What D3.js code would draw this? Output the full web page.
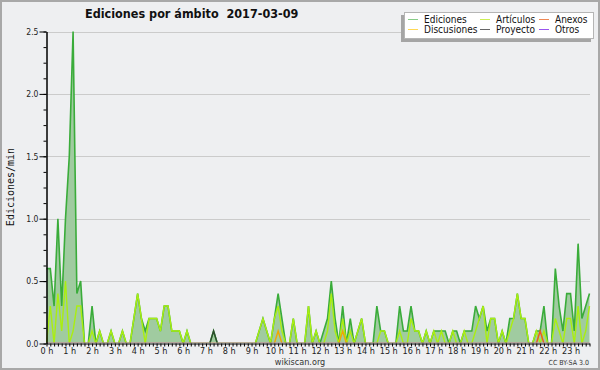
<!DOCTYPE html>
<html><head><meta charset="utf-8">
<script src="https://cdn.jsdelivr.net/npm/d3@7"></script>
<style>
html,body{margin:0;padding:0;background:#fff;}
svg{display:block;}
</style></head><body>
<svg id="chart" width="600" height="370"></svg>
<script>
// ---- data (10-minute bins, edits per minute) ----
const hourLabels = ["0 h","1 h","2 h","3 h","4 h","5 h","6 h","7 h","8 h","9 h","10 h","11 h",
  "12 h","13 h","14 h","15 h","16 h","17 h","18 h","19 h","20 h","21 h","22 h","23 h"];
const yTickValues = [0, 0.5, 1, 1.5, 2, 2.5];
const yTickLabels = ["0.0","0.5","1.0","1.5","2.0","2.5"];

const ediciones = [
  0.6,0.6,0.3,1.0,0.3,1.0,1.5,2.5,0.4,0.5,0,0,
  0.3,0,0.1,0,0,0.1,0,0,0.1,0,0,0.2,
  0.4,0.2,0.1,0.2,0.2,0.2,0.1,0.3,0.3,0.1,0.1,0.1,
  0,0.1,0,0,0,0,0,0,0.1,0,0,0,
  0,0,0,0,0,0,0,0,0.1,0.2,0.1,0,
  0.2,0.4,0.2,0,0,0.2,0,0,0,0.3,0,0.1,
  0,0.1,0.2,0.5,0.2,0,0.3,0,0.2,0,0.1,0.2,
  0,0,0,0.3,0.1,0.1,0,0,0,0.3,0.1,0.1,
  0.3,0.1,0.1,0,0.1,0,0.1,0.1,0.1,0.1,0,0.1,
  0.1,0,0.1,0.1,0.1,0.3,0.2,0.3,0.1,0.2,0.2,0,
  0.1,0,0.2,0.2,0.4,0.2,0.2,0,0,0.1,0.1,0.3,
  0,0,0.6,0.3,0.1,0.4,0.4,0.1,0.8,0.2,0.3,0.4
];
const articulos = [
  0,0.3,0,0.4,0.1,0.5,0,0.1,0.3,0.3,0,0,
  0.1,0,0.1,0,0,0.1,0,0,0.1,0,0,0.2,
  0.4,0.2,0,0.2,0.2,0.2,0.1,0.3,0.3,0.1,0.1,0.1,
  0,0.1,0,0,0,0,0,0,0,0,0,0,
  0,0,0,0,0,0,0,0,0.1,0.2,0.1,0,
  0.2,0.3,0.1,0,0,0.2,0,0,0,0.3,0,0.1,
  0,0,0.1,0.4,0.1,0,0.2,0,0.1,0,0.1,0.2,
  0,0,0,0,0.1,0.1,0,0,0,0.1,0,0,
  0.2,0.1,0.1,0,0.1,0,0.1,0,0.1,0,0,0.1,
  0,0,0.1,0,0,0.1,0.2,0.3,0,0.2,0.2,0,
  0.1,0,0.1,0.2,0.4,0.2,0.2,0,0,0.1,0,0.1,
  0,0,0.2,0.1,0,0.2,0.2,0,0.3,0,0.1,0.3
];
const discusiones = [
  0,0,0,0,0,0,0,0,0,0,0,0,
  0,0,0,0,0,0,0,0,0,0,0,0,
  0,0,0,0,0,0,0,0,0,0,0,0,
  0,0,0,0,0,0,0,0,0,0,0,0,
  0,0,0,0,0,0,0,0,0,0,0,0,
  0,0.1,0,0,0,0,0,0,0,0,0,0,
  0,0,0,0,0,0,0.1,0,0,0,0,0,
  0,0,0,0,0,0,0,0,0,0,0,0,
  0,0,0,0,0,0,0,0,0,0,0,0,
  0,0,0,0,0,0,0,0,0,0,0,0,
  0,0,0,0,0,0,0,0,0,0,0,0,
  0,0,0,0,0,0,0,0,0,0,0,0
];
const anexos = [
  0,0,0,0,0,0,0,0,0,0,0,0,
  0,0,0,0,0,0,0,0,0,0,0,0,
  0,0,0,0,0,0,0,0,0,0,0,0,
  0,0,0,0,0,0,0,0,0,0,0,0,
  0,0,0,0,0,0,0,0,0,0,0,0,
  0,0,0,0,0,0,0,0,0,0,0,0,
  0,0,0,0,0,0,0,0,0,0,0,0,
  0,0,0,0,0,0,0,0,0,0,0,0,
  0,0,0,0,0,0,0,0,0,0,0,0,
  0,0,0,0,0,0,0,0,0,0,0,0,
  0,0,0,0,0,0,0,0,0,0,0.1,0,
  0,0,0,0,0,0,0,0,0,0,0,0
];
const proyecto = [
  0,0,0,0,0,0,0,0,0,0,0,0,
  0,0,0,0,0,0,0,0,0,0,0,0,
  0,0,0,0,0,0,0,0,0,0,0,0,
  0,0,0,0,0,0,0,0,0.1,0,0,0,
  0,0,0,0,0,0,0,0,0,0,0,0,
  0,0,0,0,0,0,0,0,0,0,0,0,
  0,0,0,0,0,0,0,0,0,0,0,0,
  0,0,0,0,0,0,0,0,0,0,0,0,
  0,0,0,0,0,0,0,0,0,0,0,0,
  0,0,0,0,0,0,0,0,0,0,0,0,
  0,0,0,0,0,0,0,0,0,0,0,0,
  0,0,0,0,0,0,0,0,0,0,0,0
];
const otros = [
  0,0,0,0,0,0,0,0,0,0,0,0,
  0,0,0,0,0,0,0,0,0,0,0,0,
  0,0,0,0,0,0,0,0,0,0,0,0,
  0,0,0,0,0,0,0,0,0,0,0,0,
  0,0,0,0,0,0,0,0,0,0,0,0,
  0,0,0,0,0,0,0,0,0,0,0,0,
  0,0,0,0,0,0,0,0,0,0,0,0,
  0,0,0,0,0,0,0,0,0,0,0,0,
  0,0,0,0,0,0,0,0,0,0,0,0,
  0,0,0,0,0,0,0,0,0,0,0,0,
  0,0,0,0,0,0,0,0,0,0,0,0,
  0,0,0,0,0,0,0,0,0,0,0,0
];

const legendCols = [["Ediciones","Discusiones"],["Artículos","Proyecto"],["Anexos","Otros"]];
const lineColors = {"Ediciones":"#3aac3a","Artículos":"#aaee11","Discusiones":"#f0a800",
  "Anexos":"#ee5522","Proyecto":"#2e4a2e","Otros":"#8833ee"};
const legendColors = {"Ediciones":"#88cc88","Artículos":"#ccee55","Discusiones":"#ffd855",
  "Anexos":"#ee8855","Proyecto":"#666666","Otros":"#9955ee"};

// ---- drawing ----
const FONT = '"DejaVu Sans Condensed","DejaVu Sans",sans-serif';
const svg = d3.select("#chart");
svg.append("rect").attr("x",1).attr("y",1).attr("width",598).attr("height",368)
  .attr("fill","#eeeff1").attr("stroke","#a8a8a8").attr("stroke-width",2);

const minutes = ediciones.map((d,i) => i*10);
const x = d3.scaleLinear().domain([0,1430]).range([46.5,589.5]);
const y = d3.scaleLinear().domain([0,2.5]).range([343.5,31.5]);

// grid
svg.append("g").selectAll("line").data(yTickValues.slice(1)).join("line")
  .attr("x1",47).attr("x2",590).attr("y1",d=>Math.round(y(d))+0.5).attr("y2",d=>Math.round(y(d))+0.5)
  .attr("stroke","#cbcbcb").attr("stroke-width",1);

svg.append("clipPath").attr("id","clip").append("rect")
  .attr("x",46).attr("y",0).attr("width",550).attr("height",342.6);
const plot = svg.append("g").attr("clip-path","url(#clip)");

const area = d3.area().x((d,i)=>x(minutes[i])).y0(y(0)).y1(d=>y(d));
const line = d3.line().x((d,i)=>x(minutes[i])).y(d=>y(d));

plot.append("path").datum(ediciones).attr("d",area).attr("fill","#a0cba0");
plot.append("path").datum(ediciones).attr("d",line).attr("fill","none")
  .attr("stroke",lineColors["Ediciones"]).attr("stroke-width",1.6);
[["Artículos",articulos],["Discusiones",discusiones],["Anexos",anexos],["Proyecto",proyecto],["Otros",otros]]
  .forEach(([name,arr])=>{
    plot.append("path").datum(arr).attr("d",line).attr("fill","none")
      .attr("stroke",lineColors[name]).attr("stroke-width",1.4);
  });

// y axis: minor + major
const yMinor = d3.range(0,21).map(k=>k*0.125);
const gyMinor = svg.append("g").attr("transform","translate(46.5,0)")
  .call(d3.axisLeft(y).tickValues(yMinor).tickSize(3).tickSizeOuter(0).tickFormat(""));
const gy = svg.append("g").attr("transform","translate(46.5,0)")
  .call(d3.axisLeft(y).tickValues(yTickValues).tickSize(7).tickSizeOuter(0)
    .tickFormat((d,i)=>yTickLabels[i]).tickPadding(1));
[gyMinor,gy].forEach(g=>{g.selectAll("line").attr("stroke","#000");g.select(".domain").attr("stroke","#000");});
gy.selectAll("text").attr("font-family",FONT).attr("font-size",8.5).attr("fill","#222");

// x axis
const gxMinor = svg.append("g").attr("transform","translate(0,343.5)")
  .call(d3.axisBottom(x).tickValues(minutes).tickSize(3).tickSizeOuter(0).tickFormat(""));
gxMinor.selectAll("line").attr("stroke","#000");
gxMinor.select(".domain").attr("stroke","#000");
const gx = svg.append("g").attr("transform","translate(0,343.5)")
  .call(d3.axisBottom(x).tickValues(hourLabels.map((d,i)=>i*60)).tickSize(0)
    .tickFormat((d,i)=>hourLabels[i]));
gx.select(".domain").remove();
gx.selectAll("text").attr("font-family",FONT).attr("font-size",9).attr("fill","#222")
  .attr("dy",null).attr("y",10.5);

// titles
svg.append("text").attr("x",85).attr("y",18).attr("font-family",FONT).attr("font-weight","bold")
  .attr("font-size",12.5).attr("fill","#111").attr("xml:space","preserve")
  .text("Ediciones por ámbito  2017-03-09");
svg.append("text").attr("transform","translate(13.5,187) rotate(-90)").attr("text-anchor","middle")
  .attr("font-family",'"DejaVu Sans Mono",monospace').attr("font-size",10).attr("fill","#111")
  .text("Ediciones/min");
svg.append("text").attr("x",300).attr("y",364.5).attr("text-anchor","middle")
  .attr("font-family",FONT).attr("font-size",9).attr("fill","#333").text("wikiscan.org");
svg.append("text").attr("x",589).attr("y",365).attr("text-anchor","end")
  .attr("font-family",FONT).attr("font-size",7).attr("fill","#333").text("CC BY-SA 3.0");

// legend
const lg = svg.append("g");
lg.append("rect").attr("x",401).attr("y",15).attr("width",190).attr("height",27).attr("fill","#a5a5a5");
lg.append("rect").attr("x",404.5).attr("y",12.5).attr("width",189).attr("height",26)
  .attr("fill","#fff").attr("stroke","#b5b5b5");
const colX = [408,480,539];
legendCols.forEach((col,ci)=>{
  col.forEach((name,ri)=>{
    const yy = 19.5 + ri*10;
    lg.append("line").attr("x1",colX[ci]).attr("x2",colX[ci]+10).attr("y1",yy).attr("y2",yy)
      .attr("stroke",legendColors[name]).attr("stroke-width",1);
    lg.append("text").attr("x",colX[ci]+16).attr("y",yy+3.5).attr("font-family",FONT)
      .attr("font-size",10).attr("fill","#111").text(name);
  });
});
</script>
</body></html>
